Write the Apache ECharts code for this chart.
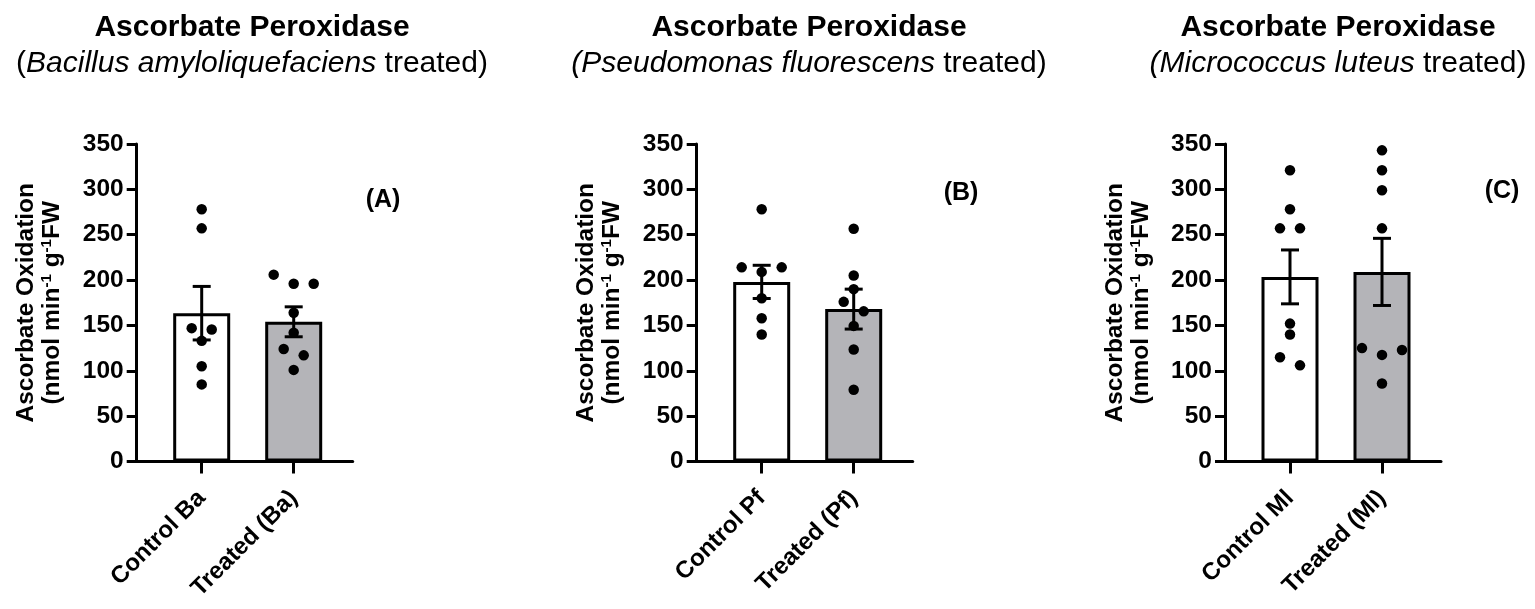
<!DOCTYPE html>
<html><head><meta charset="utf-8">
<script src="https://cdn.jsdelivr.net/npm/echarts@6/dist/echarts.min.js"></script>
<style>html,body{margin:0;padding:0;background:#fff}#c{width:1535px;height:609px}</style>
</head><body><div id="c"></div>
<script>
// ---------- data ----------
const mainTitle = 'Ascorbate Peroxidase';
const subtitles = [
  '({i|Bacillus amyloliquefaciens} treated)',
  '{i|(Pseudomonas fluorescens} treated)',
  '{i|(Micrococcus luteus} treated)'
];
const panelLetters = ['(A)', '(B)', '(C)'];
const yAxisName = 'Ascorbate Oxidation\n(nmol min{sup|-1} g{sup|-1}FW';
const yMin = 0, yMax = 350, yStep = 50;

const categoriesA = ['Control Ba', 'Treated (Ba)'];
const categoriesB = ['Control Pf', 'Treated (Pf)'];
const categoriesC = ['Control Ml', 'Treated (Ml)'];

const meansA = [163.5, 154];
const semA = [29.5, 16.5];
const meansB = [198, 168];
const semB = [18.3, 22];
const meansC = [203.5, 209];
const semC = [29.7, 37];

const pointsA_control = [278, 257, 147, 145.5, 133, 105, 85];
const pointsA_treated = [206, 196, 196, 164, 142, 124, 117, 101];
const pointsB_control = [278, 214, 214, 209, 180, 158, 140];
const pointsB_treated = [256.5, 205, 190, 176, 165.5, 149.5, 123.5, 79];
const pointsC_control = [321, 278, 257, 257, 152, 140, 115, 106];
const pointsC_treated = [343, 321, 299, 257, 125, 123, 117.5, 86];

// ---------- layout / style ----------
const FONT = '"Liberation Sans", Arial, Helvetica, sans-serif';
const panels = [
  {cats: categoriesA, means: meansA, sem: semA, pts: [pointsA_control, pointsA_treated], axisX: 136.7, titleX: 247, letter: [378, 183]},
  {cats: categoriesB, means: meansB, sem: semB, pts: [pointsB_control, pointsB_treated], axisX: 696.7, titleX: 804, letter: [956, 176]},
  {cats: categoriesC, means: meansC, sem: semC, pts: [pointsC_control, pointsC_treated], axisX: 1225, titleX: 1333, letter: [1497, 174]}
];
const TOP = 144, H = 317.5, AXIS_W = 216, BAND_OFF = 19, BAND_W = 184;
const barColors = ['#ffffff', '#b4b4b8'];

// spread overlapping dots horizontally (simple beeswarm)
function spread(values) {
  const sorted = values.slice().sort((a, b) => b - a);
  const groups = [];
  sorted.forEach(v => {
    const g = groups[groups.length - 1];
    if (g && g[g.length - 1] - v < 11) g.push(v); else groups.push([v]);
  });
  const out = [];
  groups.forEach(g => {
    const n = g.length;
    const slots = [];
    for (let k = 0; k < n; k++) slots.push((k - (n - 1) / 2) * 20);
    if (n % 2 === 1 && n > 1) {
      const center = g[n - 1];
      const side = slots.filter(s => s !== 0);
      g.slice(0, n - 1).forEach((v, i) => out.push([v, side[i]]));
      out.push([center, 0]);
    } else {
      g.forEach((v, i) => out.push([v, slots[i]]));
    }
  });
  return out;
}

const option = {
  backgroundColor: '#fff',
  animation: false,
  title: [], grid: [], xAxis: [], yAxis: [], series: []
};

panels.forEach((p, i) => {
  option.title.push({
    text: mainTitle,
    subtext: subtitles[i],
    left: p.titleX, top: 6, textAlign: 'center', itemGap: 3,
    textStyle: {fontFamily: FONT, fontSize: 30, fontWeight: 'bold', color: '#000', lineHeight: 33},
    subtextStyle: {fontFamily: FONT, fontSize: 30, color: '#000', lineHeight: 33,
      rich: {i: {fontFamily: FONT, fontSize: 30, fontStyle: 'italic', color: '#000', lineHeight: 33}}}
  });
  option.title.push({
    text: panelLetters[i], left: p.letter[0], top: p.letter[1], textAlign: 'center',
    textStyle: {fontFamily: FONT, fontSize: 25, fontWeight: 'bold', color: '#000'}
  });
  // bars grid
  option.grid.push({left: p.axisX + BAND_OFF, top: TOP, width: BAND_W, height: H, containLabel: false});
  // frame grid (x axis line)
  option.grid.push({left: p.axisX, top: TOP, width: AXIS_W, height: H, containLabel: false});
  const gi = i * 2;
  option.xAxis.push({
    gridIndex: gi, type: 'category', data: p.cats, boundaryGap: true,
    axisLine: {show: false},
    axisTick: {show: true, alignWithLabel: true, length: 12, lineStyle: {color: '#000', width: 3}},
    axisLabel: {interval: 0, rotate: 45, margin: 33, color: '#000', fontFamily: FONT, fontSize: 24, fontWeight: 'bold'},
    splitLine: {show: false}
  });
  option.xAxis.push({
    gridIndex: gi + 1, type: 'value', min: 0, max: 1,
    axisLine: {show: true, lineStyle: {color: '#000', width: 3}},
    axisTick: {show: false}, axisLabel: {show: false}, splitLine: {show: false}
  });
  option.yAxis.push({
    gridIndex: gi, type: 'value', min: yMin, max: yMax, interval: yStep, offset: BAND_OFF,
    axisLine: {show: true, lineStyle: {color: '#000', width: 3}},
    axisTick: {show: true, length: 10, lineStyle: {color: '#000', width: 3}},
    axisLabel: {margin: 13, color: '#000', fontFamily: FONT, fontSize: 24.5, fontWeight: 'bold'},
    splitLine: {show: false},
    name: yAxisName, nameLocation: 'middle', nameGap: 71, nameRotate: 90,
    nameTextStyle: {fontFamily: FONT, fontSize: 24.5, fontWeight: 'bold', color: '#000', lineHeight: 26, align: 'center',
      rich: {sup: {fontFamily: FONT, fontSize: 15, fontWeight: 'bold', color: '#000', verticalAlign: 'top', lineHeight: 26}}}
  });
  option.yAxis.push({gridIndex: gi + 1, type: 'value', min: 0, max: 1, show: false});

  option.series.push({
    type: 'bar', xAxisIndex: gi, yAxisIndex: gi, barWidth: 57, z: 2,
    data: p.means.map((m, k) => ({value: m, itemStyle: {color: barColors[k]}})),
    itemStyle: {borderColor: '#000', borderWidth: 3}
  });
  const dots = [];
  p.pts.forEach((arr, k) => spread(arr).forEach(([v, off]) => dots.push({value: [k, v], symbolOffset: [off, 0]})));
  option.series.push({
    type: 'scatter', xAxisIndex: gi, yAxisIndex: gi, symbol: 'circle', symbolSize: 10.5, z: 3,
    itemStyle: {color: '#000', opacity: 1}, data: dots
  });
  option.series.push({
    type: 'custom', xAxisIndex: gi, yAxisIndex: gi, z: 4,
    data: p.means.map((m, k) => [k, m, p.sem[k]]),
    renderItem: (params, api) => {
      const x = api.value(0), m = api.value(1), s = api.value(2);
      const hi = api.coord([x, m + s]), lo = api.coord([x, m - s]);
      const w = 9, st = {stroke: '#000', lineWidth: 3};
      return {type: 'group', children: [
        {type: 'line', shape: {x1: hi[0], y1: hi[1], x2: lo[0], y2: lo[1]}, style: st},
        {type: 'line', shape: {x1: hi[0] - w, y1: hi[1], x2: hi[0] + w, y2: hi[1]}, style: st},
        {type: 'line', shape: {x1: lo[0] - w, y1: lo[1], x2: lo[0] + w, y2: lo[1]}, style: st}
      ]};
    }
  });
});

const chart = echarts.init(document.getElementById('c'));
chart.setOption(option);
</script>
</body></html>
